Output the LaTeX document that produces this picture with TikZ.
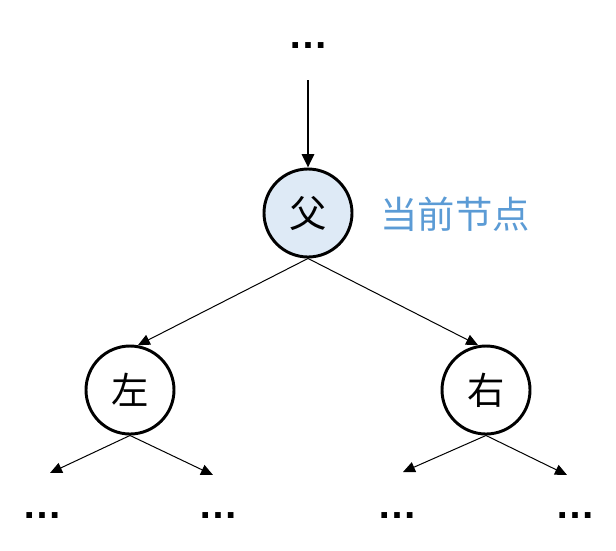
\documentclass[tikz,border=0pt]{standalone}
\usepackage{fontspec}
\setmainfont{Liberation Sans}
\newfontfamily\cjk{Noto Sans CJK SC}
\usetikzlibrary{arrows.meta}
\definecolor{nodefill}{HTML}{DEEAF6}
\definecolor{labelblue}{HTML}{5B9BD5}

\begin{document}
\begin{tikzpicture}[x=0.75pt,y=-0.75pt,
  treenode/.style={draw, circle, line width=2.2pt, minimum size=66pt, inner sep=0pt, font=\cjk\fontsize{28}{28}\selectfont},
  dots/.style={anchor=base, inner sep=0pt, font=\bfseries\fontsize{30}{30}\selectfont},
  thinarrow/.style={line width=0.75pt, -{Triangle[length=9pt,width=8pt]}},
  thickarrow/.style={line width=2.2pt, -{Triangle[length=10pt,width=9pt]}}]
\useasboundingbox (0,0) rectangle (616,550);
\node[treenode, fill=nodefill] (p) at (308,213) {父};
\node[treenode] (l) at (130,390) {左};
\node[treenode] (r) at (486,390) {右};
\node[text=labelblue, font=\cjk\fontsize{28}{28}\selectfont] (lbl) at (455,214) {当前节点};
\node[dots] (d0) at (308,48) {…};
\node[dots] (ld1) at (42,518) {…};
\node[dots] (ld2) at (218,518) {…};
\node[dots] (rd1) at (397,518) {…};
\node[dots] (rd2) at (575,518) {…};
\coordinate (t) at (308,80);
\coordinate (ll) at (50,473);
\coordinate (lr) at (213,475);
\coordinate (rl) at (403,472);
\coordinate (rr) at (567,475);
\draw[thickarrow] (t) -- (p.north);
\draw[thinarrow] (p.south) -- (l.80);
\draw[thinarrow] (p.south) -- (r.100);
\draw[thinarrow] (l.south) -- (ll);
\draw[thinarrow] (l.south) -- (lr);
\draw[thinarrow] (r.south) -- (rl);
\draw[thinarrow] (r.south) -- (rr);
\end{tikzpicture}
\end{document}
